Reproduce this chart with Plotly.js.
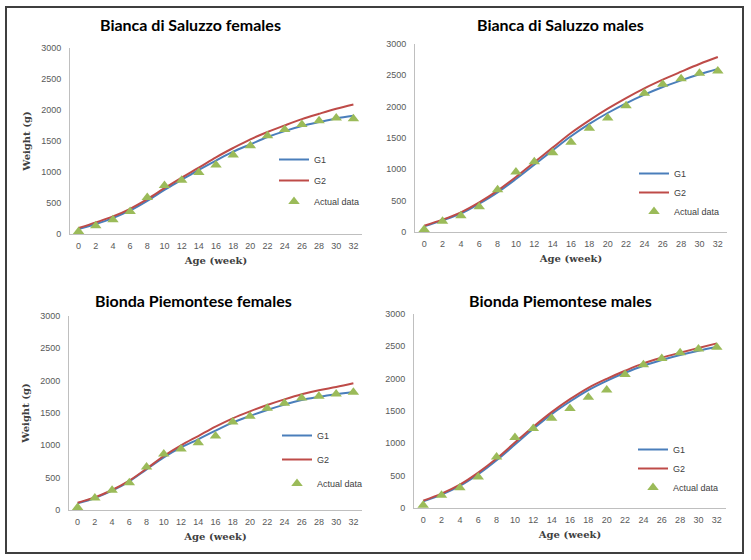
<!DOCTYPE html>
<html><head><meta charset="utf-8">
<script src="https://cdn.plot.ly/plotly-3.0.1.min.js"></script>
<style>html,body{margin:0;padding:0;background:#fff}#chart{width:751px;height:560px}</style>
</head><body><div id="chart"></div>
<script>
const weeks = [0,2,4,6,8,10,12,14,16,18,20,22,24,26,28,30,32];
const xTicks = weeks;
const yTicks = [0,500,1000,1500,2000,2500,3000];

const titles = ["Bianca di Saluzzo females","Bianca di Saluzzo males","Bionda Piemontese females","Bionda Piemontese males"];
const seriesNames = ["G1","G2","Actual data"];

// Bianca di Saluzzo females
const bsfG1 = [80,161,257,380,536,712,873,1034,1184,1328,1446,1564,1660,1741,1805,1864,1907];
const bsfG2 = [96,187,284,407,562,739,911,1071,1237,1387,1527,1645,1752,1853,1939,2020,2089];
const bsfActual = [40,134,230,364,589,782,868,991,1114,1275,1425,1585,1687,1768,1827,1870,1859];
// Bianca di Saluzzo males
const bsmG1 = [90,186,293,452,633,846,1074,1303,1527,1724,1899,2053,2191,2314,2420,2516,2601];
const bsmG2 = [101,197,314,473,660,878,1112,1346,1580,1782,1968,2138,2293,2431,2558,2681,2792];
const bsmActual = [40,170,261,404,675,957,1122,1266,1431,1654,1819,2016,2213,2356,2447,2532,2569];
// Bionda Piemontese females
const bpfG1 = [103,186,299,443,629,814,969,1093,1227,1351,1454,1547,1630,1701,1748,1789,1825];
const bpfG2 = [113,196,309,454,639,835,1000,1144,1289,1418,1526,1624,1711,1789,1851,1902,1959];
const bpfActual = [40,186,304,423,665,866,943,1041,1144,1361,1449,1572,1650,1732,1758,1794,1820];
// Bionda Piemontese males
const bpmG1 = [103,207,341,522,738,981,1224,1451,1647,1823,1967,2091,2200,2288,2365,2432,2489];
const bpmG2 = [114,222,361,547,764,1012,1255,1482,1683,1859,1998,2122,2236,2324,2401,2474,2546];
const bpmActual = [41,196,315,480,790,1090,1229,1389,1539,1714,1823,2066,2215,2313,2401,2458,2484];

const panels = [
  {g1:bsfG1, g2:bsfG2, act:bsfActual},
  {g1:bsmG1, g2:bsmG2, act:bsmActual},
  {g1:bpfG1, g2:bpfG2, act:bpfActual},
  {g1:bpmG1, g2:bpmG2, act:bpmActual}
];

const W = 751, H = 560;
// pixel geometry of each panel: [xLeft, xRight, yZero, yTop]
const geo = [
  [70, 362, 234, 48],
  [415, 727, 232, 44],
  [69, 362, 510, 316],
  [414, 726, 508, 314]
];
// legend anchor (left, top) in pixels, and gap between items
const legPos = [[274,145],[634,159],[277,421],[633,435]];
const legGap = [2, 0, 5, 0];
const titlePos = [[190,25],[560,25],[193,300],[560,300]];

const BLUE = "#4a7ebb", RED = "#be4b48", GREEN = "#9bbb59";
const tickFont = {family:"Liberation Sans, Arial, sans-serif", size:9, color:"#595959"};
const axTitleFont = {family:"DejaVu Serif, Liberation Serif, serif", size:10, color:"#404040", weight:"bold"};

const data = [];
const layout = {
  width: W, height: H,
  margin: {l:0,r:0,t:0,b:0},
  paper_bgcolor: "#fff", plot_bgcolor: "#fff",
  showlegend: true,
  annotations: [],
  shapes: [{type:"rect", xref:"paper", yref:"paper", x0:6/W, x1:743/W, y0:1-553/H, y1:1-7/H,
            line:{color:"#3f3f3f", width:2}}]
};

panels.forEach((p, i) => {
  const n = i + 1;
  const xa = n === 1 ? "x" : "x" + n;
  const ya = n === 1 ? "y" : "y" + n;
  const lg = n === 1 ? "legend" : "legend" + n;
  data.push({x:weeks, y:p.g1, type:"scatter", mode:"lines", name:seriesNames[0], xaxis:xa, yaxis:ya,
    legend:lg, legendgroup:"g1_"+n, line:{color:BLUE, width:2, shape:"spline"}, hoverinfo:"x+y"});
  data.push({x:weeks, y:p.g2, type:"scatter", mode:"lines", name:seriesNames[1], xaxis:xa, yaxis:ya,
    legend:lg, legendgroup:"g2_"+n, line:{color:RED, width:2, shape:"spline"}, hoverinfo:"x+y"});
  data.push({x:weeks, y:p.act, type:"scatter", mode:"markers", name:seriesNames[2], xaxis:xa, yaxis:ya,
    legend:lg, legendgroup:"a_"+n, marker:{symbol:"triangle-up", size:10, color:GREEN}, hoverinfo:"x+y"});

  const g = geo[i];
  const xKey = n === 1 ? "xaxis" : "xaxis" + n;
  const yKey = n === 1 ? "yaxis" : "yaxis" + n;
  layout[xKey] = {
    domain:[g[0]/W, g[1]/W], anchor: ya, range:[-1, 33],
    tickmode:"array", tickvals:xTicks, ticktext:xTicks.map(String),
    showgrid:false, zeroline:false, showline:true, linecolor:"#bfbfbf", linewidth:1,
    ticks:"", tickfont:tickFont, fixedrange:true, ticklabelstandoff:3,
    title:{text:"Age (week)", font:axTitleFont, standoff:7}
  };
  layout[yKey] = {
    domain:[1-g[2]/H, 1-g[3]/H], anchor: xa, range:[0, 3000],
    tickmode:"array", tickvals:yTicks, ticktext:yTicks.map(String),
    showgrid:false, zeroline:false, showline:true, linecolor:"#bfbfbf", linewidth:1,
    ticks:"", tickfont:tickFont, fixedrange:true, ticklabelstandoff:6,
    title:{text:(n % 2 === 1 ? "Weight (g)" : ""), font:axTitleFont, standoff:8}
  };
  layout[lg] = {
    x: legPos[i][0]/W, y: 1-legPos[i][1]/H, xanchor:"left", yanchor:"top",
    xref:"paper", yref:"paper",
    bgcolor:"rgba(0,0,0,0)", borderwidth:0,
    font:{family:"Liberation Sans, Arial, sans-serif", size:9, color:"#404040"},
    tracegroupgap:legGap[i], itemwidth:30
  };
  layout.annotations.push({
    text:titles[i], xref:"paper", yref:"paper", x:titlePos[i][0]/W, y:1-titlePos[i][1]/H,
    xanchor:"center", yanchor:"middle", showarrow:false,
    font:{family:"Lato, Open Sans, sans-serif", size:16, color:"#000", weight:"bold"}
  });
});

Plotly.newPlot("chart", data, layout, {displayModeBar:false, staticPlot:true});
</script>
</body></html>
